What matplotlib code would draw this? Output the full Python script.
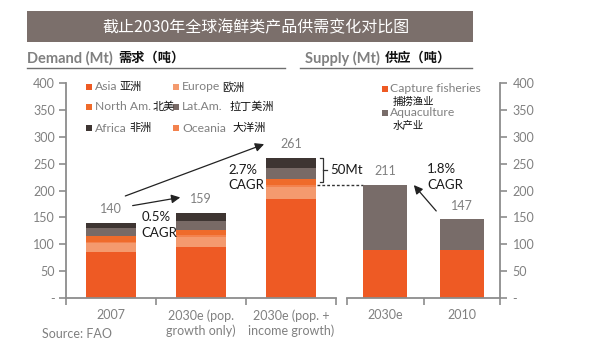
import matplotlib
matplotlib.use("Agg")
import matplotlib.pyplot as plt
from matplotlib.patches import Rectangle
from matplotlib.lines import Line2D

plt.rcParams['font.family'] = ['Lato', 'Noto Sans CJK SC', 'DejaVu Sans']

# demand by region, Mt
demand_cats = ["2007", "2030e (pop.\ngrowth only)", "2030e (pop. +\nincome growth)"]
asia = [86, 95, 185]
europe = [16, 18, 21]
oceania = [3, 4, 4]
north_am = [10, 10, 12]
lat_am = [15, 17, 19]
africa = [10, 15, 20]
demand_totals = [140, 159, 261]

# supply by source, Mt
supply_cats = ["2030e", "2010"]
capture = [90, 90]
aquaculture = [121, 57]
supply_totals = [211, 147]

C_ASIA = "#ee5a24"
C_EUROPE = "#f49a6e"
C_OCEANIA = "#f3824e"
C_NAM = "#ef6b2b"
C_LATAM = "#786a66"
C_AFRICA = "#3e3532"
C_AQUA = "#786c69"
GREY = "#808080"
AXC = "#8c8c8c"

W, H = 600, 344
fig = plt.figure(figsize=(6, 3.44), dpi=100)
fig.patch.set_facecolor("white")


def fx(x):
    return x / W


def fy(y):
    return 1 - y / H


# title banner
fig.patches.append(Rectangle((fx(27), fy(42)), fx(446), 31 / H, transform=fig.transFigure,
                             facecolor="#7b6f6b", edgecolor="none"))
fig.text(fx(256), fy(28), "截止2030年全球海鲜类产品供需变化对比图", color="white",
         fontsize=11.5, ha="center", va="center",
         family=['Noto Sans CJK SC', 'DejaVu Sans'])

# section headers
fig.text(fx(27), fy(58), "Demand (Mt)", color=GREY, fontsize=10.5, fontweight="bold", va="center")
fig.text(fx(118), fy(58), "需求（吨）", color="#111111", fontsize=9.5, fontweight="bold", va="center",
         family=['Noto Sans CJK SC'])
fig.text(fx(305), fy(58), "Supply (Mt)", color=GREY, fontsize=10.5, fontweight="bold", va="center")
fig.text(fx(385), fy(58), "供应（吨）", color="#111111", fontsize=9.5, fontweight="bold", va="center",
         family=['Noto Sans CJK SC'])
for x0, x1 in [(27, 285), (300, 472)]:
    fig.lines.append(Line2D([fx(x0), fx(x1)], [fy(68), fy(68)], transform=fig.transFigure,
                            color="#6e6e6e", lw=1))

fig.text(fx(42), fy(334), "Source: FAO", color=GREY, fontsize=9, va="center")

# ---- demand axes ----
axd = fig.add_axes([fx(66), fy(298), 270 / W, 215 / H])
axd.patch.set_visible(False)
x = range(len(demand_cats))
bw = 0.56
bottom = [0, 0, 0]
for vals, col in [(asia, C_ASIA), (europe, C_EUROPE), (oceania, C_OCEANIA),
                  (north_am, C_NAM), (lat_am, C_LATAM), (africa, C_AFRICA)]:
    axd.bar(x, vals, bw, bottom=bottom, color=col, edgecolor="none")
    bottom = [b + v for b, v in zip(bottom, vals)]

axd.set_xlim(-0.5, 2.5)
axd.set_ylim(0, 400)
axd.set_yticks(range(0, 401, 50))
axd.set_yticklabels(["-"] + [str(v) for v in range(50, 401, 50)])
axd.set_xticks(list(x))
axd.set_xticklabels(demand_cats, linespacing=1.25)
axd.set_xticks([-0.5, 0.5, 1.5, 2.5], minor=True)
for s in ["top", "right"]:
    axd.spines[s].set_visible(False)
for s in ["left", "bottom"]:
    axd.spines[s].set_color(AXC)
    axd.spines[s].set_linewidth(1.3)
axd.tick_params(axis="y", colors=AXC, labelcolor=GREY, labelsize=9, length=5, width=1.2, pad=3)
axd.tick_params(axis="x", which="major", length=0, labelcolor=GREY, labelsize=9, pad=8)
axd.tick_params(axis="x", which="minor", length=5, width=1.2, color=AXC)

for i, t in enumerate(demand_totals):
    axd.text(i, t + 26, str(t), color=GREY, fontsize=9, ha="center", va="center")

arrow = dict(arrowstyle="-|>", color="#222222", lw=0.9, mutation_scale=13)
axd.annotate("", xy=(0.8, 188), xytext=(0.21, 171), arrowprops=arrow, annotation_clip=False)
axd.annotate("", xy=(1.73, 288), xytext=(0.13, 188), arrowprops=arrow, annotation_clip=False)
axd.text(0.34, 136, "0.5%\nCAGR", color="#1a1a1a", fontsize=9.5, ha="left", va="center",
         linespacing=1.35)
axd.text(1.3, 224, "2.7%\nCAGR", color="#1a1a1a", fontsize=9.5, ha="left", va="center",
         linespacing=1.35)

# 50Mt gap bracket and dashed link to supply
bx = 2.36
axd.plot([bx - 0.04, bx, bx, bx - 0.04], [261, 261, 216, 216], color="#333333", lw=0.9,
         clip_on=False)
axd.plot([bx, bx + 0.04], [238.5, 238.5], color="#333333", lw=0.9, clip_on=False)
axd.text(bx + 0.08, 238.5, "50Mt", color="#1a1a1a", fontsize=9.5, ha="left", va="center")
axd.plot([2.29, 2.8], [211, 211], color="#333333", lw=1, ls=(0, (2, 1.5)), clip_on=False)

# ---- supply axes ----
axs = fig.add_axes([fx(347), fy(298), 153 / W, 215 / H])
axs.patch.set_visible(False)
xs = range(len(supply_cats))
axs.bar(xs, capture, 0.57, color=C_ASIA, edgecolor="none")
axs.bar(xs, aquaculture, 0.57, bottom=capture, color=C_AQUA, edgecolor="none")
axs.set_xlim(-0.5, 1.5)
axs.set_ylim(0, 400)
axs.yaxis.tick_right()
axs.set_yticks(range(0, 401, 50))
axs.set_yticklabels(["-"] + [str(v) for v in range(50, 401, 50)])
axs.set_xticks(list(xs))
axs.set_xticklabels(supply_cats)
axs.set_xticks([-0.5, 0.5, 1.5], minor=True)
for s in ["top", "left"]:
    axs.spines[s].set_visible(False)
for s in ["right", "bottom"]:
    axs.spines[s].set_color(AXC)
    axs.spines[s].set_linewidth(1.3)
axs.tick_params(axis="y", colors=AXC, labelcolor=GREY, labelsize=9, length=5, width=1.2, pad=4)
axs.tick_params(axis="x", which="major", length=0, labelcolor=GREY, labelsize=9, pad=8)
axs.tick_params(axis="x", which="minor", length=5, width=1.2, color=AXC)

for i, t in enumerate(supply_totals):
    axs.text(i, t + 25, str(t), color=GREY, fontsize=9, ha="center", va="center")
axs.annotate("", xy=(0.35, 214), xytext=(0.69, 158), arrowprops=arrow, annotation_clip=False)
axs.text(0.55, 225, "1.8%\nCAGR", color="#1a1a1a", fontsize=9.5, ha="left", va="center",
         linespacing=1.35)

# ---- legends ----
def legend_item(sx, sy, col, en, en_x, zh, zh_x, zh_y=None, zh_size=8):
    fig.patches.append(Rectangle((fx(sx), fy(sy + 3)), 6 / W, 6 / H, transform=fig.transFigure,
                                 facecolor=col, edgecolor="none"))
    fig.text(fx(en_x), fy(sy), en, color=GREY, fontsize=8.7, va="center")
    fig.text(fx(zh_x), fy(sy if zh_y is None else zh_y), zh, color="#111111", fontsize=zh_size,
             va="center", family=['Noto Sans CJK SC'])


legend_item(86, 87, C_ASIA, "Asia", 95, "亚洲", 119)
legend_item(173, 87, C_EUROPE, "Europe", 182, "欧洲", 222)
legend_item(86, 107, C_NAM, "North Am.", 95, "北美", 153)
legend_item(173, 107, C_LATAM, "Lat.Am.", 182, "拉丁美洲", 229)
legend_item(86, 128, C_AFRICA, "Africa", 95, "非洲", 129)
legend_item(173, 128, C_OCEANIA, "Oceania", 182, "大洋洲", 232)
legend_item(382, 89, C_ASIA, "Capture fisheries", 390, "捕捞渔业", 393, zh_y=102, zh_size=7.5)
legend_item(382, 113, C_AQUA, "Aquaculture", 390, "水产业", 393, zh_y=126, zh_size=7.5)

fig.savefig("out.png", dpi=100)
